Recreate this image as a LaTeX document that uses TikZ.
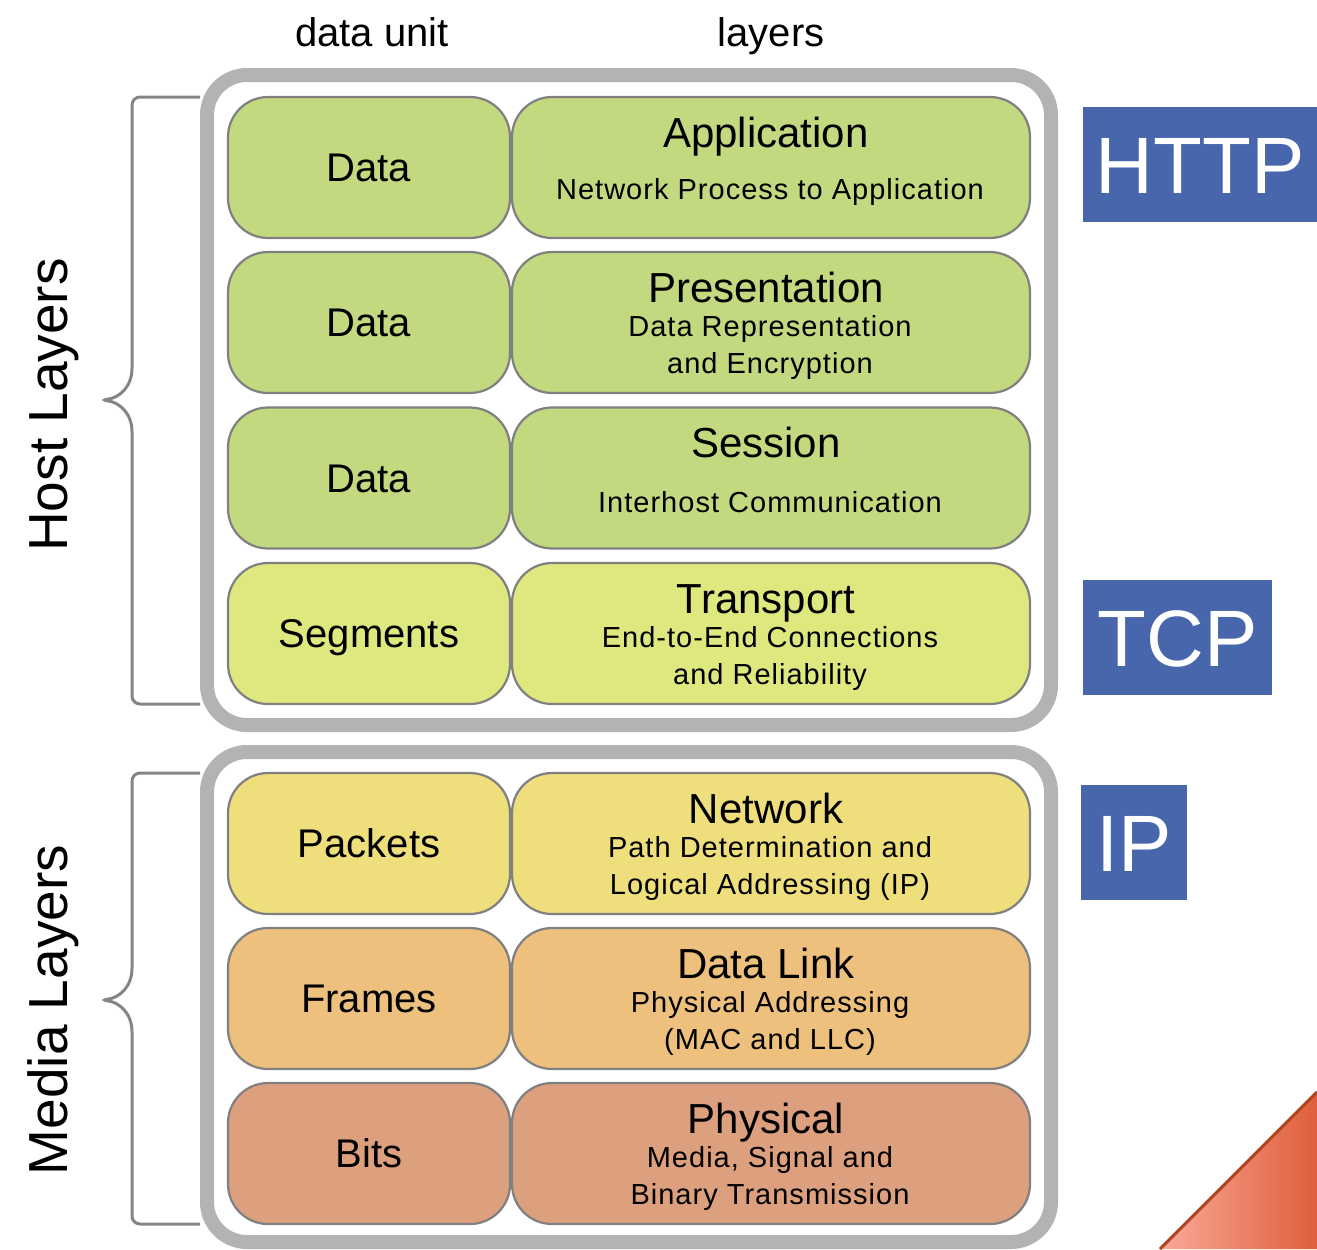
\documentclass[tikz,border=0pt]{standalone}
\usepackage{fontspec}
\setmainfont{Liberation Sans}
\definecolor{hostgreen}{HTML}{C3D97F}
\definecolor{transyellow}{HTML}{DFE77F}
\definecolor{netyellow}{HTML}{EEDE7C}
\definecolor{linkorange}{HTML}{EDC07D}
\definecolor{physorange}{HTML}{DDA07E}
\definecolor{protoblue}{HTML}{4766AC}
\definecolor{framegrey}{HTML}{B3B3B3}
\definecolor{bracegrey}{HTML}{858585}
\definecolor{cornerlight}{HTML}{F9A999}
\definecolor{cornerdark}{HTML}{DF5F3B}
\definecolor{cornerline}{HTML}{B0441E}

\begin{document}
\begin{tikzpicture}[x=0.5pt,y=-0.5pt,
  unitbox/.style={draw=black!50,line width=1.1pt,rounded corners=20pt,minimum width=141pt,minimum height=70.5pt,inner sep=0pt,font=\fontsize{20}{24}\selectfont,text height=14.4pt,text depth=0pt},
  layerbox/.style={unitbox,minimum width=259pt},
  layertitle/.style={font=\fontsize{21}{25}\selectfont,inner sep=0pt,text height=15.1pt,text depth=0pt},
  layersub/.style={font=\fontsize{14.5}{18.5}\selectfont\addfontfeatures{LetterSpace=3.5},align=center,inner sep=0pt},
  headtext/.style={font=\fontsize{20}{24}\selectfont,inner sep=0pt,text height=14.4pt,text depth=0pt},
  frame/.style={draw=framegrey,line width=7pt,rounded corners=20pt},
  brace/.style={draw=bracegrey,line width=1.5pt,rounded corners=4pt},
  proto/.style={fill=protoblue,text=white,font=\fontsize{40}{48}\selectfont,inner sep=0pt,text height=28.8pt,text depth=0pt,minimum height=57.5pt},
  sidelabel/.style={rotate=90,font=\fontsize{27.5}{33}\selectfont,inner sep=0pt,text height=19.8pt,text depth=0pt}]
\useasboundingbox (0,0) rectangle (1317,1249);

% column heads
\node[headtext] (unithead) at (372,32) {data unit};
\node[headtext] (layerhead) at (771,32) {layers};

% the two frames
\draw[frame] (207,75) rectangle (1051,725);
\draw[frame] (207,752) rectangle (1051,1242);

% host layers
\node[unitbox,fill=hostgreen] (u1) at (369,167.5) {Data};
\node[layerbox,fill=hostgreen] (l1) at (771,167.5) {};
\node[layertitle] (t1) at (766,132) {Application};
\node[layersub] (s1) at (770,192) {Network Process to Application};

\node[unitbox,fill=hostgreen] (u2) at (369,322.5) {Data};
\node[layerbox,fill=hostgreen] (l2) at (771,322.5) {};
\node[layertitle] (t2) at (766,287) {Presentation};
\node[layersub] (s2) at (770,347) {Data Representation\\and Encryption};

\node[unitbox,fill=hostgreen] (u3) at (369,478) {Data};
\node[layerbox,fill=hostgreen] (l3) at (771,478) {};
\node[layertitle] (t3) at (766,442.5) {Session};
\node[layersub] (s3) at (770,502.5) {Interhost Communication};

\node[unitbox,fill=transyellow] (u4) at (369,633.5) {Segments};
\node[layerbox,fill=transyellow] (l4) at (771,633.5) {};
\node[layertitle] (t4) at (766,598) {Transport};
\node[layersub] (s4) at (770,658) {End-to-End Connections\\and Reliability};

% media layers
\node[unitbox,fill=netyellow] (u5) at (369,843.5) {Packets};
\node[layerbox,fill=netyellow] (l5) at (771,843.5) {};
\node[layertitle] (t5) at (766,808) {Network};
\node[layersub] (s5) at (770,868) {Path Determination and\\Logical Addressing (IP)};

\node[unitbox,fill=linkorange] (u6) at (369,998.5) {Frames};
\node[layerbox,fill=linkorange] (l6) at (771,998.5) {};
\node[layertitle] (t6) at (766,963) {Data Link};
\node[layersub] (s6) at (770,1023) {Physical Addressing\\(MAC and LLC)};

\node[unitbox,fill=physorange] (u7) at (369,1153.5) {Bits};
\node[layerbox,fill=physorange] (l7) at (771,1153.5) {};
\node[layertitle] (t7) at (766,1118) {Physical};
\node[layersub] (s7) at (770,1178) {Media, Signal and\\Binary Transmission};

% braces
\draw[brace] (200,97) -- (132,97) -- (132,360) .. controls (132,388) and (118,398) .. (100,400)
  .. controls (118,402) and (132,412) .. (132,440) -- (132,704) -- (200,704);
\draw[brace] (200,773) -- (132,773) -- (132,960) .. controls (132,988) and (118,998) .. (100,1000)
  .. controls (118,1002) and (132,1012) .. (132,1040) -- (132,1224) -- (200,1224);
\node[sidelabel] (host) at (48,405) {Host Layers};
\node[sidelabel] (media) at (48,1010) {Media Layers};

% protocols
\node[proto,minimum width=117pt] (http) at (1200,164.5) {HTTP};
\node[proto,minimum width=94.5pt] (tcp) at (1177.5,637.5) {TCP};
\node[proto,minimum width=53pt] (ip) at (1134,842.5) {IP};

% corner
\shade[left color=cornerlight,right color=cornerdark] (1160,1249) -- (1317,1092) -- (1317,1249) -- cycle;
\draw[cornerline,line width=1.5pt] (1160,1249) -- (1317,1092);
\end{tikzpicture}
\end{document}
